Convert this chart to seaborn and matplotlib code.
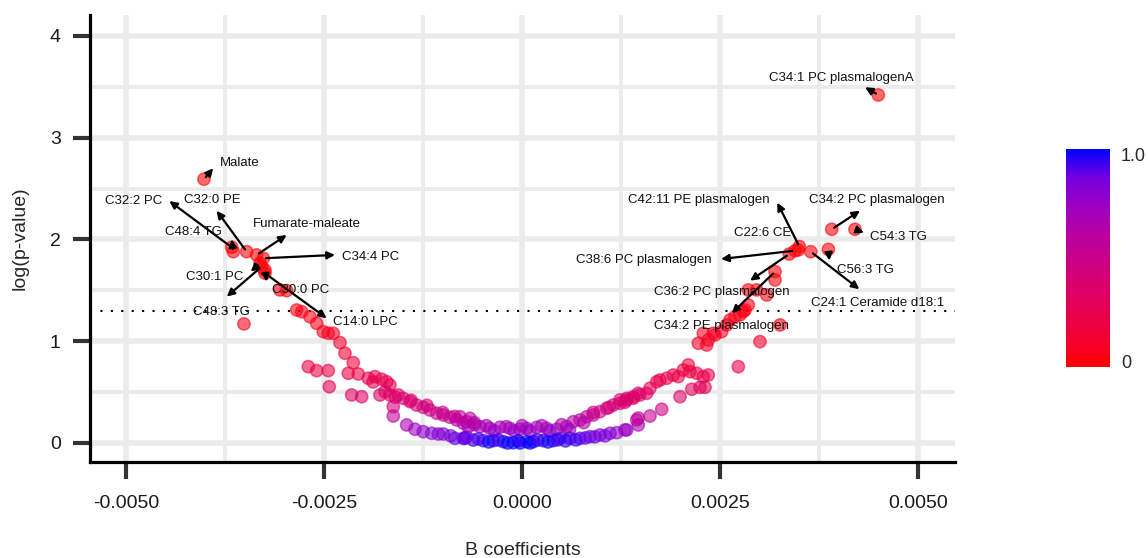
import numpy as np
import pandas as pd
import seaborn as sns
import matplotlib.pyplot as plt
from matplotlib.colors import LinearSegmentedColormap, Normalize
from matplotlib.cm import ScalarMappable

# labelled features
sig_names = ["Malate", "C32:2 PC", "C48:4 TG", "C32:0 PE", "Fumarate-maleate",
             "C34:4 PC", "C30:1 PC", "C48:3 TG", "C30:0 PC", "C14:0 LPC",
             "C34:1 PC plasmalogenA", "C34:2 PC plasmalogen", "C54:3 TG",
             "C42:11 PE plasmalogen", "C22:6 CE", "C38:6 PC plasmalogen", "C56:3 TG",
             "C36:2 PC plasmalogen", "C24:1 Ceramide d18:1", "C34:2 PE plasmalogen"]
sig_b = [-0.004015, -0.003665, -0.003645, -0.003476, -0.003350,
         -0.003266, -0.003308, -0.003287, -0.003245, -0.003245,
         0.004499, 0.003911, 0.004204,
         0.003502, 0.003489, 0.003448, 0.003868,
         0.003375, 0.003646, 0.003195]
sig_logp = [2.592, 1.923, 1.880, 1.880, 1.848,
            1.815, 1.766, 1.733, 1.700, 1.668,
            3.420, 2.100, 2.100,
            1.930, 1.897, 1.890, 1.903,
            1.857, 1.880, 1.684]

# all other features (left arm, centre, right arm)
b_left = [-0.003056, -0.002971, -0.003510, -0.002845, -0.002781, -0.002677, -0.002592,
          -0.002509, -0.002446, -0.002382, -0.002298, -0.002235, -0.002130,
          -0.002698, -0.002592, -0.002446, -0.002433, -0.002193, -0.002067, -0.001941,
          -0.001856, -0.001771, -0.001708, -0.001667, -0.001730,
          -0.002150, -0.002024, -0.001793, -0.001667, -0.001562,
          -0.001499, -0.001414, -0.001330, -0.001246, -0.001162, -0.001077, -0.000994,
          -0.000909, -0.000824, -0.000741, -0.000678,
          -0.001880, -0.001600, -0.001400, -0.001200, -0.001000, -0.000850, -0.000700, -0.000600,
          -0.001625, -0.001625,
          -0.001456, -0.001351, -0.001246, -0.001140, -0.001057, -0.000994, -0.000846, -0.000720]
logp_left = [1.504, 1.497, 1.170, 1.307, 1.290, 1.241, 1.176,
             1.094, 1.078, 1.078, 0.986, 0.882, 0.789,
             0.750, 0.711, 0.711, 0.553, 0.685, 0.678, 0.636,
             0.652, 0.626, 0.602, 0.570, 0.504,
             0.472, 0.455, 0.472, 0.472, 0.472,
             0.439, 0.406, 0.373, 0.351, 0.324, 0.292, 0.275,
             0.253, 0.226, 0.194, 0.160,
             0.600, 0.450, 0.420, 0.370, 0.300, 0.260, 0.210, 0.180,
             0.357, 0.265,
             0.177, 0.135, 0.111, 0.095, 0.088, 0.088, 0.046, 0.046]

b_mid = [-0.000783, -0.000657, -0.000530, -0.000404, -0.000278, -0.000152, -0.000025,
         0.000059, 0.000186, 0.000312, 0.000438, 0.000564, 0.000648, 0.000732, 0.000817,
         0.000900, 0.000985, 0.001069, 0.001153, 0.001237, 0.001322, 0.001405, 0.001468,
         -0.000600, -0.000450, -0.000350, -0.000200, -0.000100, 0.000000, 0.000100,
         0.000250, 0.000350, 0.000500, 0.000600, 0.000780, 0.000900, 0.001100, 0.001300,
         -0.000741, -0.000615, -0.000489, -0.000362, -0.000236, -0.000110, -0.000025,
         0.000059, 0.000143, 0.000269, 0.000395, 0.000480, 0.000606, 0.000732, 0.000859,
         0.000985, 0.001111, 0.001196, 0.001300, 0.001448,
         -0.000550, -0.000420, -0.000300, -0.000180, -0.000050, 0.000100, 0.000200,
         0.000330, 0.000450, 0.000550, 0.000680, 0.000800, 0.000920, 0.001050,
         -0.000700, -0.000900]
logp_mid = [0.258, 0.242, 0.160, 0.144, 0.154, 0.144, 0.135,
            0.144, 0.154, 0.144, 0.135, 0.160, 0.209, 0.226, 0.258,
            0.275, 0.308, 0.341, 0.373, 0.390, 0.423, 0.455, 0.488,
            0.200, 0.170, 0.120, 0.160, 0.120, 0.170, 0.120,
            0.170, 0.120, 0.180, 0.130, 0.200, 0.300, 0.350, 0.400,
            0.046, 0.029, 0.023, 0.023, 0.013, 0.003, 0.000,
            0.013, 0.013, 0.023, 0.023, 0.046, 0.046, 0.046, 0.062,
            0.079, 0.095, 0.101, 0.128, 0.226,
            0.040, 0.010, 0.030, 0.000, 0.020, 0.000, 0.030,
            0.010, 0.030, 0.020, 0.030, 0.050, 0.060, 0.070,
            0.060, 0.070]

b_right = [0.001237, 0.001322, 0.001405, 0.001490, 0.001574, 0.001616, 0.001701, 0.001742,
           0.001827, 0.001910, 0.001973, 0.002037, 0.002100, 0.002121, 0.002206, 0.002289,
           0.002352,
           0.001322, 0.001468, 0.001468, 0.001616, 0.001764, 0.001995, 0.002143, 0.002247,
           0.002311,
           0.002226, 0.002332, 0.002289, 0.002415, 0.002352, 0.002437, 0.002521, 0.002584,
           0.002626, 0.002689, 0.002752, 0.002816, 0.002794, 0.002857, 0.002857, 0.002963,
           0.003090, 0.003195, 0.002731, 0.003005, 0.003258]
logp_right = [0.423, 0.439, 0.439, 0.472, 0.488, 0.538, 0.602, 0.619,
              0.636, 0.668, 0.652, 0.717, 0.767, 0.701, 0.685, 0.652,
              0.668,
              0.128, 0.177, 0.245, 0.265, 0.331, 0.455, 0.528, 0.547,
              0.547,
              0.980, 0.963, 1.078, 1.078, 1.012, 1.061, 1.094, 1.160,
              1.209, 1.241, 1.258, 1.307, 1.290, 1.356, 1.504, 1.504,
              1.455, 1.602, 0.750, 0.996, 1.160]

# where the repelled labels sit and where their arrows end
label_pos = [(-0.003813, 2.752, "left"), (-0.004545, 2.378, "right"), (-0.004150, 2.077, "center"),
             (-0.003908, 2.388, "center"), (-0.002715, 2.152, "center"), (-0.002273, 1.831, "left"),
             (-0.003876, 1.629, "center"), (-0.003792, 1.290, "center"), (-0.002797, 1.504, "center"),
             (-0.002386, 1.192, "left"),
             (0.004036, 3.584, "center"), (0.004478, 2.388, "center"), (0.004758, 2.022, "center"),
             (0.002237, 2.388, "center"), (0.003033, 2.067, "center"), (0.001543, 1.799, "center"),
             (0.004331, 1.700, "center"), (0.002523, 1.481, "center"), (0.004489, 1.379, "center"),
             (0.002523, 1.153, "center")]
arrow_tip = [(-0.003898, 2.700), (-0.004453, 2.378), (-0.003665, 2.002), (-0.003855, 2.283),
             (-0.002971, 2.044), (-0.002361, 1.848), (-0.003425, 1.684), (-0.003728, 1.438),
             (-0.003223, 1.585), (-0.002466, 1.226),
             (0.004331, 3.496), (0.004268, 2.283), (0.004318, 2.067), (0.003223, 2.362),
             None, (0.002513, 1.808), (0.003880, 1.792), (0.002879, 1.595),
             (0.004259, 1.511), (0.002648, 1.275)]

df = pd.DataFrame({
    "b": b_left + b_mid + b_right + sig_b,
    "logp": logp_left + logp_mid + logp_right + sig_logp,
})
df["pval"] = 10 ** (-df["logp"])

# red -> blue through Lab space, like ggplot's gradient
cmap = LinearSegmentedColormap.from_list(
    "rb", ["#FF0000", "#F40031", "#E80050", "#DA006C", "#CA0089",
           "#B500A5", "#9A00C3", "#7300E0", "#0000FF"])

sns.set_style("white")
plt.rcParams["font.family"] = ["Liberation Sans", "DejaVu Sans"]

fig = plt.figure(figsize=(11.48, 5.58), dpi=100)
ax = fig.add_axes([90 / 1148, 96 / 558, 865 / 1148, 447 / 558])

sns.scatterplot(data=df, x="b", y="logp", hue="pval", palette=cmap, hue_norm=(0, 1),
                s=78, alpha=0.58, edgecolor="face", linewidth=1.1, legend=False, ax=ax, zorder=2)

ax.axhline(-np.log10(0.05), color="black", lw=1.5, linestyle=(0, (1, 4)), zorder=1.5)

for name, pos, tip, px, py in zip(sig_names, label_pos, arrow_tip, sig_b, sig_logp):
    if tip is not None:
        ax.annotate("", xy=tip, xytext=(px, py),
                    arrowprops=dict(arrowstyle="-|>,head_length=0.45,head_width=0.22",
                                    color="black", lw=1.6, shrinkA=2, shrinkB=0), zorder=3)
    ax.text(pos[0], pos[1], name, ha=pos[2], va="center", fontsize=9.5, color="#111111", zorder=4)

ax.set_xlim(-0.005454, 0.005467)
ax.set_ylim(-0.187, 4.206)
ax.set_xticks([-0.005, -0.0025, 0, 0.0025, 0.005])
ax.set_xticklabels(["-0.0050", "-0.0025", "0.0000", "0.0025", "0.0050"])
ax.set_xticks([-0.00375, -0.00125, 0.00125, 0.00375], minor=True)
ax.set_yticks([0, 1, 2, 3, 4])
ax.set_yticks([0.5, 1.5, 2.5, 3.5], minor=True)
ax.grid(which="major", color="#EBEBEB", lw=4.0, zorder=0)
ax.grid(which="minor", color="#EBEBEB", lw=2.8, zorder=0)
ax.set_axisbelow(True)
ax.tick_params(which="major", length=12, width=3, color="#333333", labelsize=14,
               labelcolor="#1a1a1a", left=True, bottom=True)
ax.tick_params(axis="x", which="major", pad=12)
ax.tick_params(axis="y", which="major", pad=9)
ax.tick_params(which="minor", length=0)

for side in ["top", "right"]:
    ax.spines[side].set_visible(False)
for side in ["left", "bottom"]:
    ax.spines[side].set_color("black")
    ax.spines[side].set_linewidth(2.3)

ax.set_xlabel("B coefficients", fontsize=14)
ax.set_ylabel("log(p-value)", fontsize=14)
ax.xaxis.set_label_coords(0.5, -0.198)
ax.xaxis.label.set_va("center")
ax.yaxis.set_label_coords(-0.081, 0.5)
ax.yaxis.label.set_va("center")

cax = fig.add_axes([1066 / 1148, 191 / 558, 44 / 1148, 218 / 558])
sm = ScalarMappable(norm=Normalize(-0.025, 1.025), cmap=cmap)
cbar = fig.colorbar(sm, cax=cax, ticks=[0, 1])
cbar.ax.set_yticklabels(["0", "1.0"])
cbar.outline.set_visible(False)
cax.tick_params(direction="in", color="white", length=5, width=1, left=True, right=True,
                labelsize=13, pad=8)

fig.savefig("out.png", dpi=100)
